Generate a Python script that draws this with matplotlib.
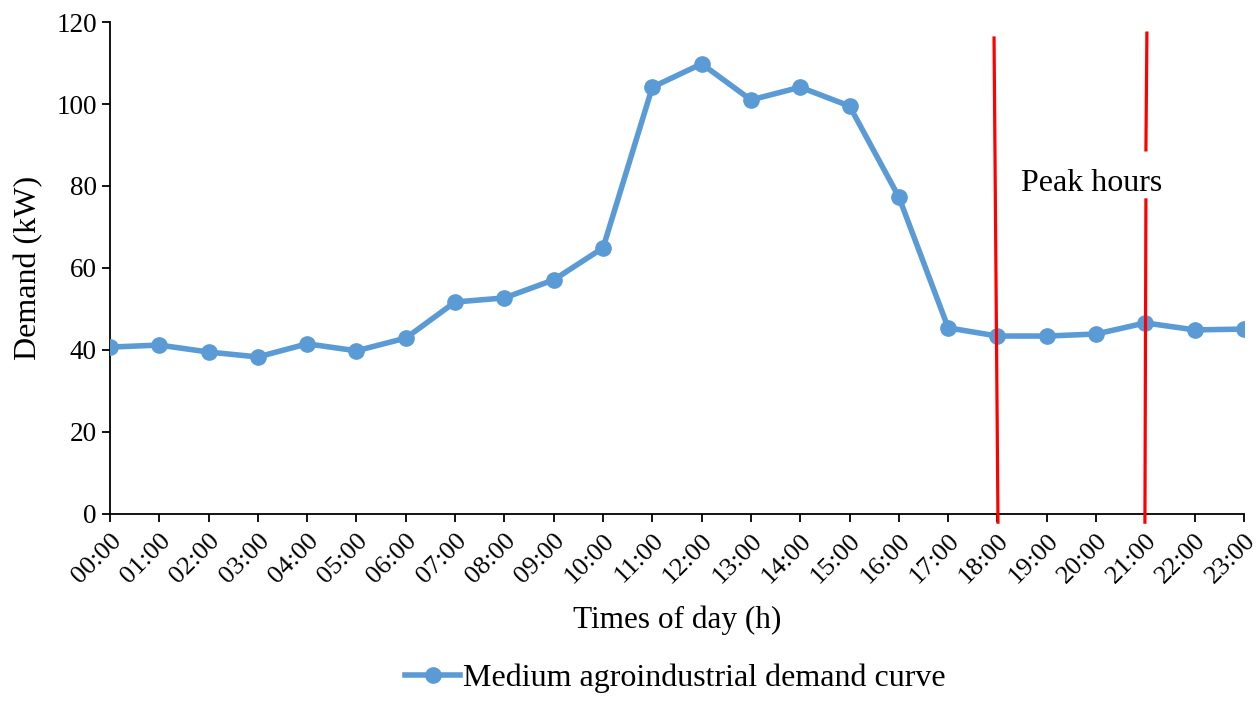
import numpy as np
import matplotlib
matplotlib.use('Agg')
import matplotlib.pyplot as plt

plt.rcParams['font.family'] = ['Liberation Serif', 'DejaVu Serif']

# Datos de la curva de demanda
horas = ['00:00', '01:00', '02:00', '03:00', '04:00', '05:00', '06:00', '07:00',
         '08:00', '09:00', '10:00', '11:00', '12:00', '13:00', '14:00', '15:00',
         '16:00', '17:00', '18:00', '19:00', '20:00', '21:00', '22:00', '23:00']
demanda = [40.7, 41.2, 39.5, 38.3, 41.5, 39.8, 42.9, 51.7, 52.7, 57.1, 64.9, 104.1,
           109.8, 101.0, 104.1, 99.5, 77.3, 45.4, 43.4, 43.4, 43.9, 46.6, 44.9, 45.1]
inicio_pico = 18
fin_pico = 21

fig = plt.figure(figsize=(12.58, 7.01), dpi=100)
ax = fig.add_axes([0.0874, 0.2668, 0.9015, 0.7018])

x = np.arange(len(horas))
ax.plot(x, demanda, color='#5B9BD5', lw=4, marker='o', ms=11,
        label='Medium agroindustrial demand curve', zorder=3)

# Lineas rojas de horas pico (dibujadas a mano en el original)
ax.plot([inicio_pico - 0.07, inicio_pico + 0.01], [116.1, -2], color='red', lw=2.3,
        clip_on=False, zorder=4)
ax.plot([fin_pico + 0.03, fin_pico + 0.01], [117.3, 88.8], color='red', lw=2.3,
        clip_on=False, zorder=4)
ax.plot([fin_pico + 0.01, fin_pico - 0.01], [76.6, -2], color='red', lw=2.3,
        clip_on=False, zorder=4)
ax.text(inicio_pico + 0.47, 80.6, 'Peak hours', fontsize=23, va='center', ha='left')

ax.set_xlim(0, 23)
ax.set_ylim(0, 120)
ax.set_yticks(range(0, 121, 20))
ax.set_xticks(x)
ax.set_xticklabels(horas, rotation=45, ha='right', rotation_mode='anchor')
ax.tick_params(axis='both', labelsize=19.5, direction='out', length=6, width=1.3)
ax.tick_params(axis='x', labelsize=19, pad=5)
for s in ['top', 'right']:
    ax.spines[s].set_visible(False)
for s in ['left', 'bottom']:
    ax.spines[s].set_linewidth(1.3)

ax.set_ylabel('Demand (kW)', fontsize=23, labelpad=9)
ax.set_xlabel('Times of day (h)', fontsize=22.5, labelpad=13)

fig.legend(loc='lower center', bbox_to_anchor=(0.537, -0.03), frameon=False,
           fontsize=23, handlelength=1.7, handletextpad=0.1)

fig.savefig('out.png', dpi=100)
